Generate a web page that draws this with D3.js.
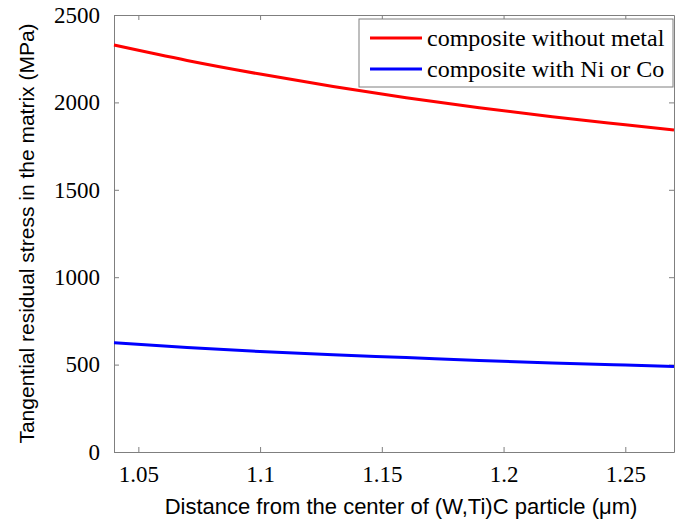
<!DOCTYPE html>
<html>
<head>
<meta charset="utf-8">
<script src="https://cdn.jsdelivr.net/npm/d3@7"></script>
<style>
  body { margin: 0; background: #fff; }
  .tick text { font-family: "Liberation Serif", "Times New Roman", serif; font-size: 23px; fill: #000; }
  .axis path, .axis line { stroke: #7f7f7f; }
</style>
</head>
<body>
<div id="chart"></div>
<script>
// distance (µm)
var distance = [1.04, 1.07, 1.10, 1.13, 1.16, 1.19, 1.22, 1.25, 1.27];
// tangential residual stress (MPa)
var withoutMetal = [2328, 2240, 2162, 2091, 2027, 1970, 1918, 1872, 1842];
var withNiCo = [625, 598, 575, 556, 540, 523, 509, 497, 489];
var seriesNames = ["composite without metal", "composite with Ni or Co"];
var seriesColors = ["#ff0000", "#0000ff"];
var xTicks = [1.05, 1.1, 1.15, 1.2, 1.25];
var yTicks = [0, 500, 1000, 1500, 2000, 2500];

var margin = {top: 15, right: 5, bottom: 68, left: 114},
    width = 679 - margin.left - margin.right,
    height = 520 - margin.top - margin.bottom;

var svg = d3.select("#chart")
  .append("svg")
  .attr("width", 679)
  .attr("height", 520)
  .append("g")
  .attr("transform", "translate(" + margin.left + "," + margin.top + ")");

var x = d3.scaleLinear().domain([1.04, 1.27]).range([0, width]);
var y = d3.scaleLinear().domain([0, 2500]).range([height, 0]);

// axes, ticks pointing inward
svg.append("g")
  .attr("class", "axis")
  .attr("transform", "translate(0," + height + ")")
  .call(d3.axisBottom(x).tickValues(xTicks).tickSizeInner(-5).tickSizeOuter(0).tickPadding(14).tickFormat(d3.format("")))
svg.append("g")
  .attr("class", "axis")
  .call(d3.axisLeft(y).tickValues(yTicks).tickSizeInner(-5).tickSizeOuter(0).tickPadding(14).tickFormat(d3.format("d")));
svg.append("g")
  .attr("class", "axis")
  .call(d3.axisTop(x).tickValues(xTicks).tickSizeInner(-5).tickSizeOuter(0).tickFormat(""));
svg.append("g")
  .attr("class", "axis")
  .attr("transform", "translate(" + width + ",0)")
  .call(d3.axisRight(y).tickValues(yTicks).tickSizeInner(-5).tickSizeOuter(0).tickFormat(""));

// curves
var line = d3.line()
  .x(function(d) { return x(d[0]); })
  .y(function(d) { return y(d[1]); })
  .curve(d3.curveMonotoneX);

[withoutMetal, withNiCo].forEach(function(vals, i) {
  svg.append("path")
    .datum(distance.map(function(d, j) { return [d, vals[j]]; }))
    .attr("fill", "none")
    .attr("stroke", seriesColors[i])
    .attr("stroke-width", 3)
    .attr("d", line);
});

// legend
var legend = svg.append("g").attr("transform", "translate(245,4)");
legend.append("rect")
  .attr("width", 314).attr("height", 68)
  .attr("fill", "#fff").attr("stroke", "#7f7f7f").attr("stroke-width", 1);
seriesNames.forEach(function(name, i) {
  var ly = 19 + i * 31;
  legend.append("line")
    .attr("x1", 11).attr("x2", 63).attr("y1", ly).attr("y2", ly)
    .attr("stroke", seriesColors[i]).attr("stroke-width", 3);
  legend.append("text")
    .attr("x", 68).attr("y", ly + 8)
    .style("font-family", "'Liberation Serif', 'Times New Roman', serif")
    .style("font-size", "24px")
    .text(name);
});

// axis titles
svg.append("text")
  .attr("x", width / 2 + 7)
  .attr("y", height + 62)
  .attr("text-anchor", "middle")
  .style("font-family", "'Liberation Sans', Arial, sans-serif")
  .style("font-size", "22px")
  .text("Distance from the center of (W,Ti)C particle (μm)");
svg.append("text")
  .attr("transform", "translate(-80," + (height / 2) + ")rotate(-90)")
  .attr("text-anchor", "middle")
  .style("font-family", "'Liberation Sans', Arial, sans-serif")
  .style("font-size", "21px")
  .text("Tangential residual stress in the matrix (MPa)");
</script>
</body>
</html>
